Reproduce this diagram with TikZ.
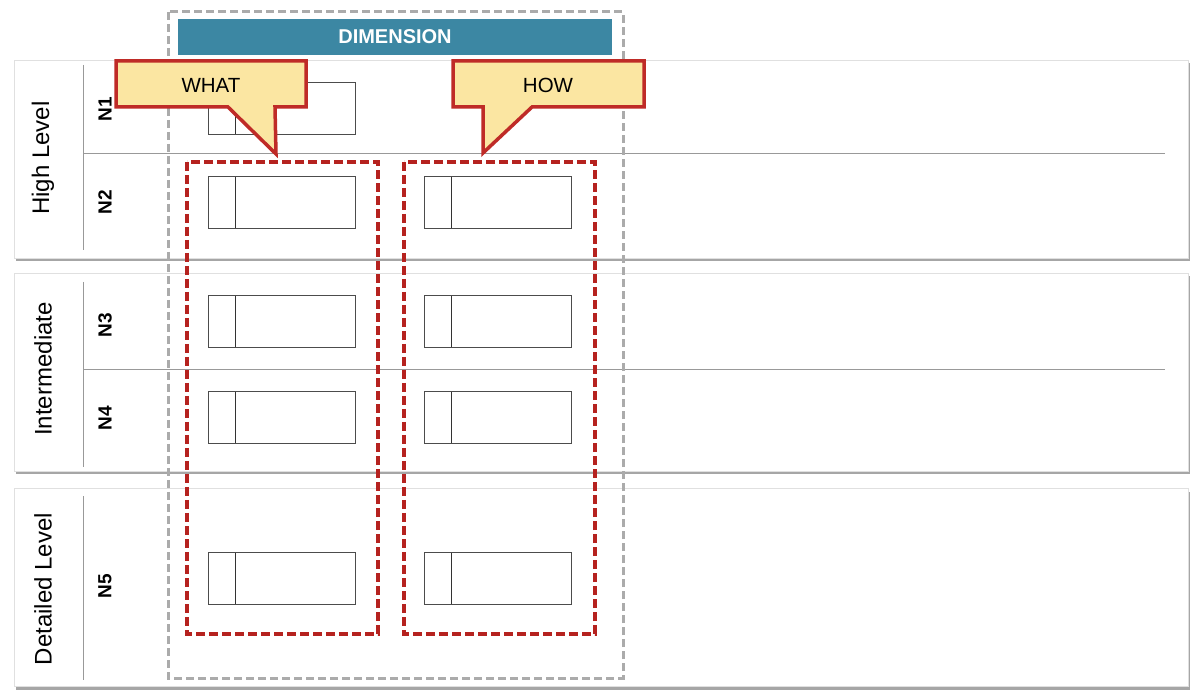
\documentclass[tikz,border=0pt]{standalone}
\usepackage{fontspec}
\setmainfont{Liberation Sans}
\usetikzlibrary{positioning,shadows}
\definecolor{dimteal}{HTML}{3C87A3}
\definecolor{tagfill}{HTML}{FBE6A2}
\definecolor{tagred}{HTML}{BF2B27}
\definecolor{grpred}{HTML}{B5221F}

\begin{document}
\begin{tikzpicture}[x=1pt,y=-1pt,
  band/.style={draw=black!12,line width=0.8pt,fill=white,minimum width=1174pt,minimum height=198pt,inner sep=0pt,drop shadow={shadow xshift=2pt,shadow yshift=-3pt,opacity=0.7,fill=black!50}},
  lvl/.style={rotate=90,inner sep=0pt,font=\fontsize{24}{28}\selectfont},
  row/.style={rotate=90,inner sep=0pt,font=\fontsize{19}{22}\selectfont\bfseries},
  item/.style={draw=black!70,line width=1pt,fill=white,minimum width=147pt,minimum height=52pt,inner sep=0pt,
    path picture={\draw[black!80,line width=1pt] ([xshift=27pt]path picture bounding box.north west) -- ([xshift=27pt]path picture bounding box.south west);}},
  grp/.style={draw=grpred,line width=3.5pt,dash pattern=on 9pt off 4pt},
  sep/.style={draw=black!40,line width=1pt},
  tag/.style={fill=tagfill,draw=tagred,line width=3.5pt,line join=miter},
  tagtext/.style={inner sep=0pt,font=\fontsize{20.5}{24}\selectfont}]
  \useasboundingbox (0,0) rectangle (1200,700);

  % level bands
  \node[band] (high) at (601,159) {};
  \node[band] (inter) at (601,372.5) {};
  \node[band] (detail) at (601,587.5) {};

  \draw[sep] (83,65) -- (83,250);
  \draw[sep] (83,282) -- (83,467);
  \draw[sep] (83,496) -- (83,680);
  \draw[sep] (83,154) -- (1165,154);
  \draw[sep] (83,370) -- (1165,370);

  \node[lvl] (lhigh) at (43,158) {High Level};
  \node[lvl] (linter) at (43,369) {Intermediate};
  \node[lvl] (ldetail) at (43,589) {Detailed Level};

  \node[row] (n1) at (105,109) {N1};
  \node[row] (n2) at (105,202) {N2};
  \node[row] (n3) at (105,325) {N3};
  \node[row] (n4) at (105,418) {N4};
  \node[row] (n5) at (105,586) {N5};

  % dimension column
  \draw[black!33,line width=3pt,dash pattern=on 8pt off 4pt] (168,12) rectangle (623,678);
  \node[fill=dimteal,minimum width=434pt,minimum height=36pt,inner sep=0pt,text=white,font=\fontsize{20}{24}\selectfont\bfseries] (dim) at (395,37) {DIMENSION};

  \node[item] (w1) at (281.5,109) {};
  \node[item] (w2) at (281.5,203) {};
  \node[item] (w3) at (281.5,322) {};
  \node[item] (w4) at (281.5,418) {};
  \node[item] (w5) at (281.5,578) {};

  \node[item,right=68pt of w2] (h2) {};
  \node[item,right=68pt of w3] (h3) {};
  \node[item,right=68pt of w4] (h4) {};
  \node[item,right=68pt of w5] (h5) {};

  \draw[grp] (187,162) rectangle (378,634);
  \draw[grp] (404,162) rectangle (595,634);

  % callouts
  \draw[tag] (116,61) -- (306,61) -- (306,107) -- (275,107) -- (276,154) -- (228,107) -- (116,107) -- cycle;
  \draw[tag] (453,61) -- (644,61) -- (644,107) -- (532,107) -- (483,153) -- (483,107) -- (453,107) -- cycle;
  \node[tagtext] (what) at (211,85) {WHAT};
  \node[tagtext] (how) at (548,85) {HOW};
\end{tikzpicture}
\end{document}
